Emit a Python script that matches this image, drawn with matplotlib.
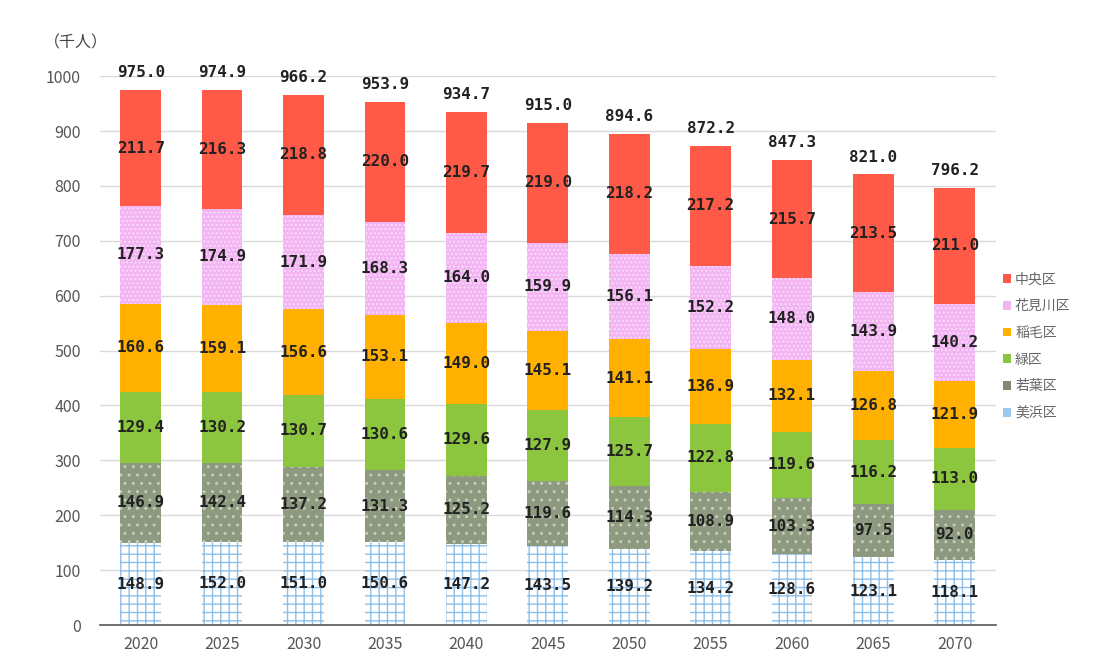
import matplotlib
matplotlib.use("Agg")
import matplotlib.pyplot as plt
import numpy as np

plt.rcParams['font.family'] = ['Noto Sans CJK JP', 'DejaVu Sans']

years = ['2020', '2025', '2030', '2035', '2040', '2045', '2050', '2055', '2060', '2065', '2070']
wards = ['美浜区', '若葉区', '緑区', '稲毛区', '花見川区', '中央区']
mihama = [148.9, 152.0, 151.0, 150.6, 147.2, 143.5, 139.2, 134.2, 128.6, 123.1, 118.1]
wakaba = [146.9, 142.4, 137.2, 131.3, 125.2, 119.6, 114.3, 108.9, 103.3, 97.5, 92.0]
midori = [129.4, 130.2, 130.7, 130.6, 129.6, 127.9, 125.7, 122.8, 119.6, 116.2, 113.0]
inage = [160.6, 159.1, 156.6, 153.1, 149.0, 145.1, 141.1, 136.9, 132.1, 126.8, 121.9]
hanamigawa = [177.3, 174.9, 171.9, 168.3, 164.0, 159.9, 156.1, 152.2, 148.0, 143.9, 140.2]
chuo = [211.7, 216.3, 218.8, 220.0, 219.7, 219.0, 218.2, 217.2, 215.7, 213.5, 211.0]
totals = [975.0, 974.9, 966.2, 953.9, 934.7, 915.0, 894.6, 872.2, 847.3, 821.0, 796.2]

series = [mihama, wakaba, midori, inage, hanamigawa, chuo]
styles = [
    dict(facecolor='white', edgecolor='#8ec0ea', hatch='++'),
    dict(facecolor='#8e9a80', edgecolor='#c6cebb', hatch='..'),
    dict(facecolor='#8cc63f', edgecolor='#8cc63f', hatch=None),
    dict(facecolor='#ffb000', edgecolor='#ffb000', hatch=None),
    dict(facecolor='#f2b4f2', edgecolor='#fbdcfb', hatch='....'),
    dict(facecolor='#ff5a47', edgecolor='#ff5a47', hatch=None),
]
legend_colors = ['#9cc8ec', '#7f8a72', '#8cc63f', '#ffb000', '#f2b4f2', '#ff5a47']

fig = plt.figure(figsize=(10.94, 6.57), dpi=100)
ax = fig.add_axes([0.0914, 0.0487, 0.8186, 0.8353])

x = np.arange(len(years))
bottom = np.zeros(len(years))
label_font = dict(family=['DejaVu Sans Mono'], fontweight='bold', fontsize=11.5, color='#222222')
for vals, st in zip(series, styles):
    vals = np.array(vals)
    ax.bar(x, vals, width=0.5, bottom=bottom, linewidth=0, zorder=3, **st)
    for xi, b, v in zip(x, bottom, vals):
        ax.text(xi, b + v / 2, f'{v:.1f}', ha='center', va='center', zorder=5, **label_font)
    bottom = bottom + vals

for xi, t in zip(x, totals):
    ax.text(xi, t + 18, f'{t:.1f}', ha='center', va='bottom', clip_on=False, **label_font)

ax.set_xlim(-0.5, len(years) - 0.5)
ax.set_ylim(0, 1000)
ax.set_yticks(np.arange(0, 1001, 100))
ax.set_xticks(x)
ax.set_xticklabels(years)
ax.tick_params(axis='both', length=0, labelsize=11.5, labelcolor='#555555', pad=8)
ax.tick_params(axis='y', pad=14)
ax.yaxis.grid(True, color='#d9d9d9', linewidth=1, zorder=0)
ax.set_axisbelow(True)
for s in ['top', 'right', 'left']:
    ax.spines[s].set_visible(False)
ax.spines['bottom'].set_color('#555555')
ax.spines['bottom'].set_linewidth(1.2)
ax.spines['bottom'].set_zorder(6)

fig.text(0.04, 0.935, '（千人）', fontsize=11.5, color='#444444', ha='left', va='center')

# Legend, top entry = top segment
handles = [plt.Rectangle((0, 0), 1, 1, facecolor=c, edgecolor='none') for c in legend_colors]
leg = fig.legend(handles[::-1], wards[::-1], loc='center left', bbox_to_anchor=(0.905, 0.473),
                 frameon=False, fontsize=10, handlelength=0.6, handleheight=0.6,
                 handletextpad=0.3, labelspacing=0.92, labelcolor='#666666')

fig.savefig('out.png', dpi=100)
